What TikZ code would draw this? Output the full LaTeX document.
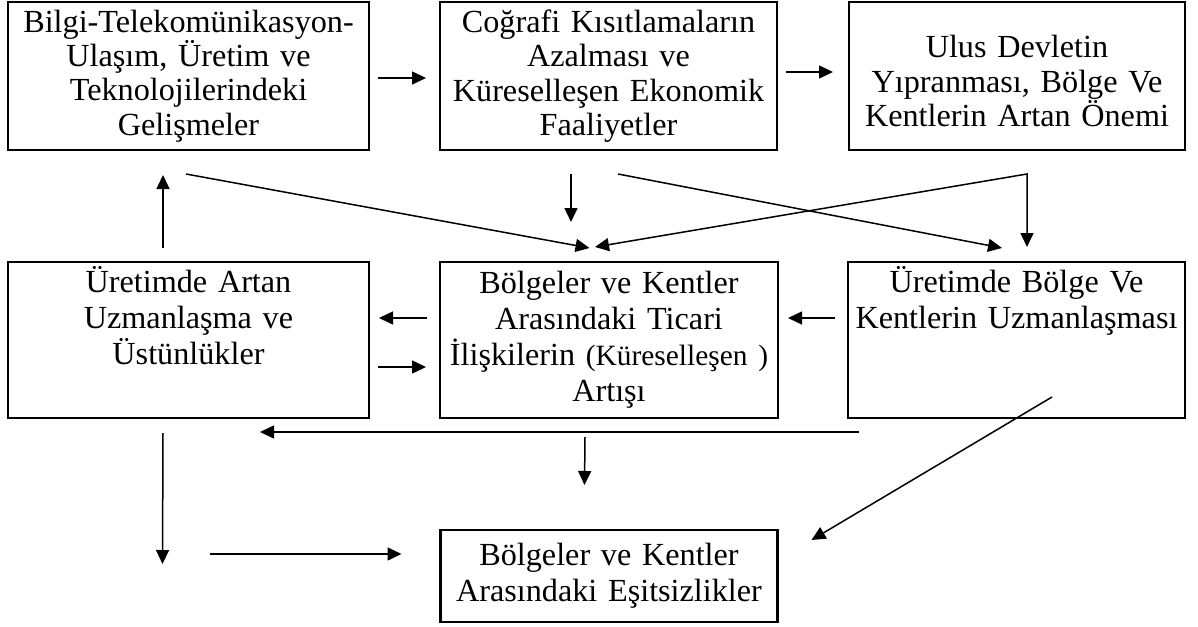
\documentclass[tikz,border=0pt]{standalone}
\usepackage{fontspec}
\setmainfont{Liberation Serif}
\usetikzlibrary{arrows.meta,positioning}
\tikzstyle{procbox} = [rectangle, draw=black, line width=1.1pt, inner sep=0pt, outer sep=0pt, align=center, font=\fontsize{16.1}{18}\selectfont]
\tikzstyle{topbox} = [procbox, minimum height=74pt, font=\fontsize{16.1}{17.2}\selectfont]
\tikzstyle{midbox} = [procbox, minimum height=78pt]
\tikzstyle{arrow} = [line width=0.75pt, -{Triangle[length=7pt,width=6.5pt]}]
\tikzstyle{biarrow} = [line width=0.75pt, {Triangle[length=7pt,width=6.5pt]}-{Triangle[length=7pt,width=6.5pt]}]

\begin{document}
\begin{tikzpicture}

\useasboundingbox (0,0) rectangle (599pt,-313pt);

\node (gelisme) [topbox, text width=180.5pt] at (94.25pt,-38pt) {Bilgi-Telekomünikasyon-\\Ulaşım, Üretim ve\\Teknolojilerindeki\\Gelişmeler};

\node (cografi) [topbox, text width=168.5pt, right=35.5pt of gelisme] {Coğrafi Kısıtlamaların\\Azalması ve\\Küreselleşen Ekonomik\\Faaliyetler};

\node (ulus) [topbox, text width=168pt, text height=28pt, text depth=46pt, right=36pt of cografi] {Ulus Devletin\\Yıpranması, Bölge Ve\\Kentlerin Artan Önemi};

\node (uzman) [midbox, text width=180.5pt, text height=15pt, text depth=63pt, below=56pt of gelisme] {Üretimde Artan\\Uzmanlaşma ve\\Üstünlükler};

\node (ticari) [midbox, text width=169pt, right=35.5pt of uzman] {Bölgeler ve Kentler\\Arasındaki Ticari\\İlişkilerin {\fontsize{14.7}{18}\selectfont(Küreselleşen )}\\Artışı};

\node (bolge) [midbox, text width=168.5pt, text height=15pt, text depth=63pt, right=35pt of ticari] {Üretimde Bölge Ve\\Kentlerin Uzmanlaşması};

\node (esitsiz) [procbox, minimum height=46pt, text width=168.5pt, below=56pt of ticari] {Bölgeler ve Kentler\\Arasındaki Eşitsizlikler};

\coordinate (kirilma) at ([xshift=5pt,yshift=-12pt]ulus.south);

\draw [arrow] ([xshift=4.5pt,yshift=-1pt]gelisme.east) -- ([xshift=-7pt,yshift=-1pt]cografi.west);
\draw [arrow] ([xshift=4.5pt,yshift=2pt]cografi.east) -- ([xshift=-8pt,yshift=2pt]ulus.west);

\draw [arrow] ([xshift=-12.75pt,yshift=7pt]uzman.north) -- ([xshift=-12.75pt,yshift=-12.5pt]gelisme.south);
\draw [arrow] ([xshift=-1.25pt,yshift=-12pt]gelisme.south) -- ([xshift=-9.75pt,yshift=7pt]ticari.north);
\draw [arrow] ([xshift=-18.75pt,yshift=-12pt]cografi.south) -- ([xshift=-19pt,yshift=20pt]ticari.north);
\draw [arrow] ([xshift=4.75pt,yshift=-12pt]cografi.south) -- ([xshift=-7.25pt,yshift=7pt]bolge.north);
\draw [biarrow] ([xshift=-7pt,yshift=7.5pt]ticari.north) -- (kirilma) -- ([xshift=5.25pt,yshift=7.5pt]bolge.north);

\draw [arrow] ([xshift=-6.5pt,yshift=11pt]ticari.west) -- ([xshift=5pt,yshift=11pt]uzman.east);
\draw [arrow] ([xshift=4.5pt,yshift=-13.5pt]uzman.east) -- ([xshift=-7pt,yshift=-13.5pt]ticari.west);
\draw [arrow] ([xshift=-6.5pt,yshift=11pt]bolge.west) -- ([xshift=5pt,yshift=11pt]ticari.east);

\draw [arrow] ([xshift=5.5pt,yshift=-7pt]bolge.south west) -- ([xshift=35.75pt,yshift=-7pt]uzman.south);
\draw [arrow] ([xshift=-12pt,yshift=-9.5pt]ticari.south) -- ([xshift=-12.25pt,yshift=22.5pt]esitsiz.north);
\draw [arrow] ([xshift=-12.75pt,yshift=-7.5pt]uzman.south) -- ([xshift=-139pt,yshift=6pt]esitsiz.west);
\draw [arrow] ([xshift=-115.5pt,yshift=11pt]esitsiz.west) -- ([xshift=-19.5pt,yshift=11pt]esitsiz.west);
\draw [arrow] ([xshift=17.75pt,yshift=10.5pt]bolge.south) -- ([xshift=17pt,yshift=18pt]esitsiz.east);

\end{tikzpicture}
\end{document}
